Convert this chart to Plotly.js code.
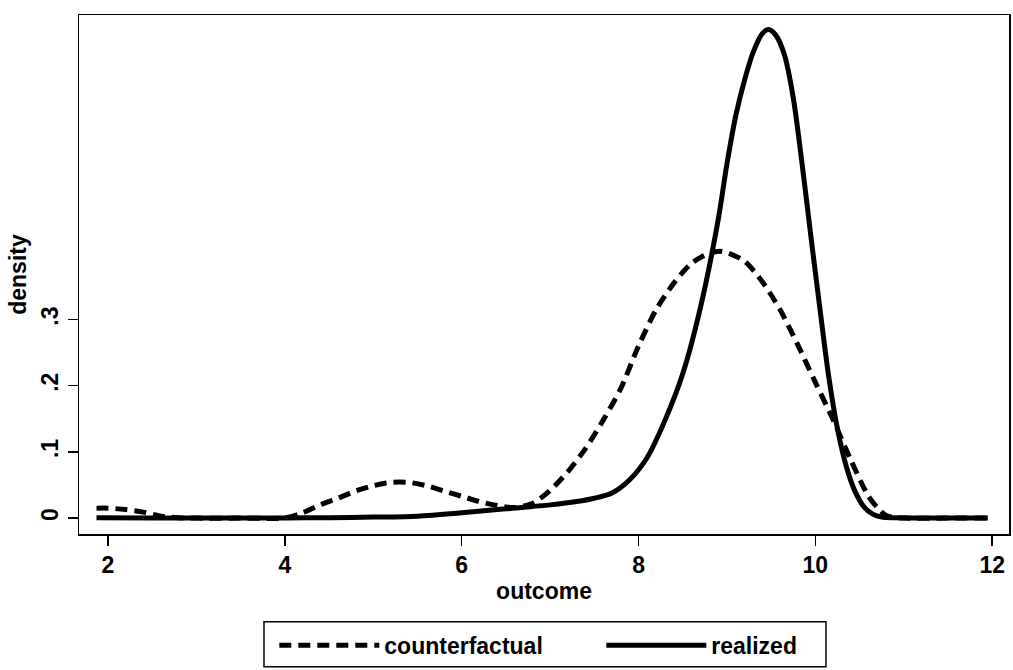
<!DOCTYPE html>
<html>
<head>
<meta charset="utf-8">
<script src="https://cdn.plot.ly/plotly-3.0.1.min.js"></script>
<style>html,body{margin:0;padding:0;background:#fff;}#chart{width:1013px;height:670px;}</style>
</head>
<body>
<div id="chart"></div>
<script>
// counterfactual density (dashed)
const cfX = [1.87,2.0,2.2,2.4,2.6,2.8,3.0,3.5,4.0,4.2,4.4,4.6,4.8,5.0,5.2,5.4,5.6,5.8,6.0,6.2,6.4,6.6,6.8,7.0,7.2,7.4,7.6,7.8,8.0,8.2,8.4,8.6,8.8,8.92,9.0,9.2,9.4,9.6,9.8,10.0,10.2,10.4,10.6,10.7,10.8,10.9,11.0,11.5,11.95];
const cfY = [0.015,0.015,0.013,0.009,0.003,0.0005,0.0,0.0,0.0005,0.008,0.02,0.03,0.041,0.049,0.054,0.054,0.049,0.041,0.033,0.025,0.019,0.016,0.022,0.042,0.07,0.105,0.148,0.196,0.26,0.315,0.355,0.385,0.40,0.403,0.401,0.388,0.357,0.315,0.262,0.205,0.149,0.088,0.033,0.016,0.004,0.001,0.0,0.0,0.0];
// realized density (solid)
const reX = [1.87,2.5,3.0,3.5,4.0,4.5,5.0,5.5,6.0,6.5,7.0,7.3,7.5,7.7,7.9,8.1,8.3,8.5,8.7,8.9,9.0,9.1,9.2,9.3,9.4,9.47,9.55,9.65,9.75,9.85,9.95,10.05,10.15,10.25,10.35,10.45,10.55,10.65,10.75,10.9,11.2,11.6,11.95];
const reY = [0.0005,0.0003,0.0002,0.0002,0.0003,0.0006,0.0015,0.003,0.008,0.014,0.020,0.025,0.030,0.038,0.058,0.092,0.148,0.218,0.318,0.450,0.535,0.608,0.662,0.705,0.732,0.738,0.730,0.700,0.635,0.535,0.425,0.318,0.215,0.135,0.078,0.040,0.017,0.006,0.0015,0.0004,0.0002,0.0001,0.0001];
const xTicks = [2,4,6,8,10,12];
const xTickText = ['2','4','6','8','10','12'];
const yTicks = [0,0.1,0.2,0.3];
const yTickText = ['0','.1','.2','.3'];
const seriesNames = ['counterfactual','realized'];

const FONT = 'Liberation Sans, Arial, sans-serif';
const F = (s) => ({family: FONT, size: s, color: '#000', weight: 'bold'});
const traces = [
  {x: cfX, y: cfY, name: seriesNames[0], mode: 'lines', line: {color: '#000', width: 5, dash: '12px,7px', shape: 'spline', smoothing: 0.8}},
  {x: reX, y: reY, name: seriesNames[1], mode: 'lines', line: {color: '#000', width: 5, shape: 'spline', smoothing: 0.8}}
];
const layout = {
  width: 1013, height: 670,
  margin: {l: 79, r: 4, t: 15, b: 135},
  paper_bgcolor: '#fff', plot_bgcolor: '#fff',
  font: F(23),
  showlegend: true,
  xaxis: {
    range: [1.672, 12.19], tickvals: xTicks, ticktext: xTickText,
    ticks: 'outside', ticklen: 10, tickwidth: 1.5, tickcolor: '#000',
    showline: true, mirror: true, linecolor: '#000', linewidth: 1.5,
    showgrid: false, zeroline: false,
    tickfont: F(23),
    title: {text: 'outcome', standoff: 6, font: F(23)},
    automargin: false
  },
  yaxis: {
    range: [-0.024, 0.760], tickvals: yTicks, ticktext: yTickText, tickangle: -90,
    ticks: 'outside', ticklen: 10, tickwidth: 1.5, tickcolor: '#000',
    showline: true, mirror: true, linecolor: '#000', linewidth: 1.5,
    showgrid: false, zeroline: false,
    tickfont: F(23),
    title: {text: 'density', standoff: 4, font: F(23)},
    automargin: false
  },
  legend: {
    orientation: 'h', x: 0.2100, xanchor: 'left', y: -0.171, yanchor: 'top',
    borderwidth: 0, bgcolor: 'rgba(0,0,0,0)',
    itemwidth: 100, entrywidth: 212, entrywidthmode: 'pixels',
    font: F(23)
  },
  shapes: [
    {type: 'rect', xref: 'paper', yref: 'paper', x0: 0.1989, x1: 0.8032, y0: -0.2558, y1: -0.1692,
     line: {color: '#000', width: 1.5}, fillcolor: 'rgba(0,0,0,0)', layer: 'below'}
  ]
};
Plotly.newPlot('chart', traces, layout, {displayModeBar: false, staticPlot: true});
</script>
</body>
</html>
